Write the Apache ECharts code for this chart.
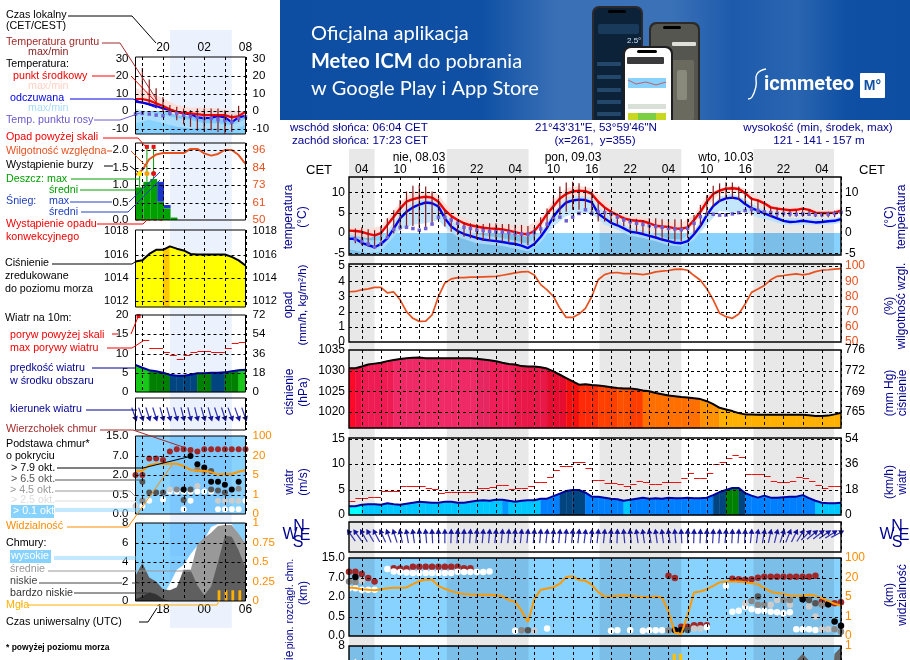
<!DOCTYPE html>
<html><head><meta charset="utf-8">
<style>html,body{margin:0;padding:0;background:#fff}#c{width:910px;height:660px}</style>
<script src="https://cdn.jsdelivr.net/npm/echarts@6/dist/echarts.min.js"></script>
</head><body><div id="c"></div>
<script>
// ---------- main panel data (hourly, i=0 is 02:00 on 08.03) ----------
const mainHourTicks=[2,8,14,20,26,32,38,44,50,56,62,68,74];
const mainHourLabels=['04','10','16','22','04','10','16','22','04','10','16','22','04'];
const mainGridX=[2,5,8,11,14,17,20,23,26,29,32,35,38,41,44,47,50,53,56,59,62,65,68,71,74,77];
const mainNight=[[0,4],[15.3,28.1],[39.2,52],[63.3,75.9]];
const tempMain=[.6,.5,.3,-.2,-.6,0,2,4,6,7.7,8.3,8.7,8.9,8.7,7.7,5.6,4.2,3.2,2.4,1.9,1.6,1.3,1.15,1.05,.9,.6,.2,-.15,-.3,.5,2.4,4.7,6.6,8.5,9.6,10.2,10.4,10.3,9.6,7.7,6.3,5.2,4.4,3.6,3.2,3,2.9,2.4,1.8,1.6,1.5,1.15,1.05,1.4,3.2,5.2,7.7,9.6,10.4,10.9,11,10.8,9.8,8.4,8,7.3,6.3,6,5.8,5.6,5.7,6,5.7,5,4.9,4.9,5,5.5];
const feelMain=[-1.4,-1.4,-2.4,-3,-3.5,-2.7,-1.3,1.1,3.6,5.2,6.3,7,7.5,7.3,6.5,3.6,1.6,.5,-.25,-.7,-1.2,-1.6,-1.8,-2,-2.2,-2.5,-2.7,-3.1,-3.7,-2.7,-.9,1.3,4,6,7.5,8,8.2,8.1,7.5,4.8,3.6,2.5,1.9,1.15,.3,.1,-.25,-.7,-1.1,-1.6,-2,-2.4,-2.5,-2,-.3,1.7,4.4,6.6,7.9,8.5,8.7,8.4,7.1,6.1,5.5,4.8,4.2,3.6,3,2.7,2.8,3,2.8,2.6,2.7,2.9,3,3.4];
const dewMain=[null,-1.6,-2,-2.7,-3.4,-2.7,-1.1,.9,1.4,1.4,1.1,.7,1.1,2.2,3.9,3.8,3.2,2.4,1.4,1.1,.7,.6,.4,.3,.2,.1,-.1,-.25,-.3,.1,1,2.2,3.4,3.9,3,3.9,4.8,5.7,4.8,5.2,5,4.7,3.9,3.2,2.8,2.4,2.1,1.8,1.6,1.4,1.15,1,.8,1.15,2.4,4,4.6,4.6,4.4,4.4,4.7,5,5.5,5.8,5.5,5.2,5,4.8,4.8,4.7,4.6,4.7,4.6,4.5,4.5,4.6,4.8,5.1];
const groundHiMain=[null,1.1,1.4,.9,.7,1.7,3.6,5.6,8.1,10.2,11.6,11.8,11.4,10.2,8.5,5.6,4,3.2,2.5,2.4,2.2,2.2,2.4,2.4,2.2,2.2,2,2,1.7,1.4,3.9,6,8.9,11.4,12.4,12.6,12.2,11.4,10.2,7.7,6.3,5.7,4.8,4,3.5,3.5,3.2,3.6,3.6,3.4,3.4,3.4,3.4,3.5,4.4,6.9,9.3,11.6,12.2,12.5,12.4,11.4,10.2,8.8,8.1,7.3,6.3,6.3,6,5.8,5.8,6,5.8,5.2,5,5.2,5.5,null];
const groundLoMain=[null,-2.5,-3,-3.4,-3.8,-2.1,-1.3,-.1,.7,1.6,1.7,1.4,1.1,2.2,3.2,1.6,.3,-.5,-.9,-1.3,-1.6,-1.9,-1.9,-1.9,-2.1,-2.4,-2.5,-2.7,-3,-2.1,-.1,1.1,3.2,4.4,5.2,5.7,5.7,5.5,4.8,2.8,2.8,2.4,2,1.6,.6,.1,-.1,-.5,-1,-1.6,-1.9,-2.1,-2.1,-1.3,-.1,1.7,4.4,6.5,7.7,8.4,8.5,8.1,7.3,4.3,4.7,4.4,4,3.9,3.9,4,4,4,4.2,3.9,3.9,3.9,3.9,null];
const bandPtsMain=[0,3,5,8,10,12,14,15,17,20,24,28,30,32,34,36,38,40,42,44,46,48,50,52,54,56,58,60,62,64,66,68,70,72,74,76,77];
const pinkHiMain=[1.4,1.1,1.6,7.5,10.2,10.2,9.6,7.3,4.4,2.4,2,1.7,3.6,8.1,11,11.6,11,8.1,5.2,4,3.9,3.2,2.8,2.4,4.4,9.3,11,11.6,11,9,6.9,6.5,6.3,6,5.5,5.7,6];
const pinkLoMain=[-.5,-1.3,-.5,4.8,7.3,7.3,6.5,4,2.4,.7,.3,-.9,1.1,5.7,8.5,9.3,8.5,5.2,3.6,2.6,2.3,1.5,.9,.6,1.7,6.5,9.6,10,9.5,7.3,5.5,5.2,5,4.8,4.4,4.4,4.8];
const blueHiMain=[-.6,-1.8,-1.8,5,7.5,8.5,7.5,5,1.7,-.3,-1.2,-2.6,.3,5.3,8.8,9.2,8.8,4.8,3,1.3,.7,-.3,-1.4,-1.6,.6,5.5,9,9.7,8.3,6.3,5,3.7,3.6,3.6,3.4,3.7,4.1];
const blueLoMain=[-4,-5,-4.5,.8,2,2.4,3.2,1.4,-1,-2.5,-3.2,-4.5,-2.3,1.6,4.2,5,4.8,2,.8,-.7,-1.2,-2,-3,-3.3,-1.7,2,5.5,5,5.2,3.9,3,2,2.1,2,2,2.2,2.6];
const humidMain=[83.1,83.3,84.4,85,86,86,82.4,83,77.8,70,65.6,63.6,63.8,67.8,80,88.9,91.6,92.4,92.4,92.7,92.7,92.9,93.1,93.3,94,94.7,95.6,96.2,96.4,94.2,87.8,84.4,80,72.2,66.2,66.2,68.4,72.2,80,91,94.4,95.6,95.8,95.1,95.1,94.9,94.4,95.1,96.2,96.7,97.1,97.8,98,97.3,93.8,90.7,85.1,77.8,68.9,66.7,65.6,68.4,75,82.7,84.9,87.3,91,93.3,93.8,94.4,94.9,94.2,94.9,96.4,97.3,97.6,98,98.4];
const pressMain=[1030.6,1030.6,1031,1031.5,1031.7,1031.9,1032.3,1032.6,1032.8,1033,1033.1,1033.2,1033,1033,1033,1033,1033,1033,1033,1033,1032.9,1032.7,1032.5,1032.3,1031.9,1031.6,1031.5,1031.1,1031,1031,1030.8,1030.5,1029.8,1029,1028.2,1027.4,1026.6,1026.7,1026.5,1026.4,1026.2,1026,1025.8,1025.7,1025.7,1025.5,1025.2,1025,1024.6,1024.3,1024,1023.8,1023.6,1023.5,1023.3,1023.1,1022.6,1021.9,1021,1020.6,1020.2,1019.7,1019.4,1019.4,1019.3,1019.3,1019.3,1019.3,1019.3,1019.3,1019.3,1019.3,1019.2,1019,1019,1019.1,1019.4,1019.8];
const pressColorsMain=[[0,'#fc0a28'],[1,'#f01040'],[2,'#ee1c52'],[7,'#ef2a66'],[20,'#e62660'],[22,'#ee1e58'],[26,'#e81848'],[31,'#e60e30'],[34,'#f51010'],[36,'#ff2a08'],[39,'#ff4000'],[42,'#ff5000'],[44,'#ff3c00'],[46,'#ff7000'],[55,'#ff9000'],[58,'#ffb000']];
const windMain=[1.7,1.7,2,2.1,2.1,2,2.3,2.1,2,2.2,2.4,2.6,2.5,2.4,2.4,2.6,2.6,2.4,2.4,2.6,2.8,2.9,2.8,3,3,2.8,2.6,2.8,2.9,2.9,3.2,3.2,3.7,4.2,4.7,4.9,4.9,4.4,3.6,3.6,3.4,3.2,3.1,2.8,3,3.2,3.4,3.2,3.3,3.2,3.4,3.3,3.3,3.4,3.3,3.3,3.4,3.9,4.5,4.9,5.3,5.3,4.3,3.8,3.4,3.8,3.4,3.4,3.5,3.6,3.6,3.9,3.3,2.8,2.4,2.3,2.3,2.4];
const windColorsMain=[[0,'#00ffff'],[2,'#00c8ff'],[24,'#0096ff'],[25,'#00c8ff'],[30,'#0080ff'],[33,'#004480'],[37,'#0080ff'],[43,'#00c8ff'],[44,'#0080ff'],[57,'#004480'],[59,'#008000'],[61,'#004480'],[62,'#0080ff'],[73,'#00c8ff']];
const gustMain=[2.8,3.3,3.3,3.5,3.5,4.7,4.7,4.8,5.6,5.6,5.6,5.6,5.2,5.1,4.3,4.5,4.5,4.5,4.5,4.5,5.2,5.2,5.5,5.8,5.8,5.1,5.3,5.3,5.7,6.4,6.4,7.4,8.8,9.6,9.6,10.4,10.4,9.2,6.8,6.8,6.3,6.3,6,5.7,6,6.7,6.4,6,6,6.5,6.4,6.4,7.2,8.3,7.2,7.2,8.3,10,10.4,11.2,11.8,11.4,8.1,8.1,8.1,7.6,6.7,6.5,6.5,6.7,7.4,7.2,6.6,5.9,5.3,5.6,5.6];
const dirMain=[-35,-35,-30,-30,-28,-25,-20,-18,-12,-10,-8,-6,-5,-3,-2,0,2,3,3,4,5,5,5,6,6,5,5,6,5,5,5,6,7,6,5,5,6,7,7,6,6,5,2,-5,-6,-8,-8,-9,-8,-7,-8,-5,-3,0,2,2,3,3,4,5,3,4,3,6,8,10,12,14,18,22,26,32,45,50,52,55,58,62];
const visMain=[2.49,2.46,2.4,2.37,2.35,2.4,2.45,2.47,2.47,2.49,2.66,2.81,2.9,2.88,2.57,2.42,2.3,2.21,2.16,2.13,2.11,2.11,2.11,2.09,2.04,1.85,1.75,1.3,.72,1.89,2.37,2.44,2.5,2.68,3.02,3.06,2.87,2.83,2.63,2.25,2.04,2.03,2.06,2.09,2.06,2.03,2,2,2.03,1.97,1.25,.17,.1,1.08,2.23,2.28,2.4,2.57,2.75,2.8,2.8,2.8,2.76,2.71,2.66,2.45,2.27,2.2,2.15,2.08,2.06,2.06,2.11,2.06,1.94,1.8,1.65,1.56];
const baseTopMain=[[0,3.3],[1,3.3],[2,3.18],[3,2.97],[4,2.8],[7,3.48],[8,3.46],[9,3.46],[10,3.55],[11,3.55],[12,3.55],[13,3.55],[14,3.55],[15,3.55],[16,3.55],[17,3.55],[18,3.48],[19,3.48],[50,3.09],[51,2.97],[52,.48],[53,.48],[54,.55],[55,.57],[56,.55],[60,2.93],[61,2.91],[62,2.88],[63,2.91],[64,2.99],[65,3.04],[66,3.04],[67,3.04],[68,3.04],[69,3.04],[70,3.04],[71,3.04],[72,3.04],[73,3.09],[74,1.77],[75,1.63],[76,1.68],[77,1.73]];
const baseWhiteMain=[[0,2.45],[1,2.45],[2,2.37],[3,2.37],[4,2.37],[6,3.43],[7,3.31],[8,3.28],[9,3.26],[10,3.23],[11,3.23],[12,3.23],[13,3.23],[14,3.23],[15,3.23],[16,3.23],[17,3.3],[18,3.28],[19,3.28],[20,3.28],[21,3.28],[22,3.31],[26,.27],[31,.39],[41,.27],[42,.29],[44,.29],[46,.27],[47,.29],[48,.29],[49,.29],[56,.45],[59,2.56],[60,1.25],[61,1.3],[62,1.5],[63,1.37],[64,1.3],[65,1.3],[66,1.25],[67,1.22],[68,1.17],[69,1.22],[70,.34],[71,.34],[72,.34],[73,.31]];
const baseLightMain=[[2,2.83],[29,.27],[54,.39],[55,.39],[62,1.68],[66,1.6],[67,1.85],[69,1.6],[72,1.51],[73,1],[74,.34],[75,.34]];
const baseMidMain=[[0,2.8],[1,2.77],[27,.29],[50,.29],[63,1.8],[64,1.6],[65,1.6],[68,1.85],[69,1.85],[74,1.6],[76,.34],[77,.22]];
const baseDarkMain=[[28,.29],[53,.31],[64,2.03],[72,1.85],[73,1.68]];
const baseBlackMain=[[1,3.02],[51,.31],[52,.31],[71,1.89],[75,1.63],[76,.74],[77,.52]];
const cloudHighMain=[[0,6],[1,6.7],[2,6],[3,0]];
const cloudLowMain=[[69,0],[70,6.5],[71,7.2],[72,6.5],[73,0],[75,0],[76,7.2],[77,7.9]];
const fogMain=[[50.9,7.2],[51.9,7.2]];

// ---------- left panel data (hourly, i=0 is 16:00 local) ----------
const leftGridX=[1,4,7,10,13,16];
const leftNight=[[5,14]];
const tempLeft=[6.9,6.9,6,4.4,2.9,1,-.4,-1,-1.3,-1.7,-2.3,-2.3,-2.3,-2.3,-3.6,-2.9,-.4];
const feelLeft=[5.4,4.8,4,2.9,1.5,.6,-.4,-1.3,-1.7,-3.6,-4,-3.8,-2.9,-3.6,-6.3,-3.6,-2.7];
const dewLeft=[-1.7,-1.3,-1.7,-2.3,-2.7,-1.3,-1.3,-2.3,-2.9,-3.6,-4.2,-4.2,-4.8,-5.2,-6.2,-4.2,-3.3];
const groundHiLeft=[null,24.6,18,13,8,3.5,2.5,1.5,.5,1.5,1.5,1.5,1.5,.5,-2,3,null];
const groundLoLeft=[null,4,4,2.5,-.4,-2.5,-5.2,-7.5,-9,-11.3,-12,-11,-12,-13,-12,-6.3,null];
const bandPtsLeft=[0,2,4,6,8,10,12,14,16];
const pinkHiLeft=[13,11,7.3,3.5,2,2,1.5,.6,-.4];
const pinkLoLeft=[5,4,.5,-2.5,-3,-4,-4,-6,-3];
const blueHiLeft=[1.3,-.5,-2,-4,-5,-7,-7,-8,-5];
const blueLoLeft=[-7,-5,-7,-9,-10,-10,-10,-11,-8];
const rainStepsLeft=[[0,1.15,.93],[1.15,2.15,1.09],[2.15,3.15,1.17],[3.15,4.15,.52],[4.15,5.1,.33],[5.1,6.1,.07]];
const snowStepsLeft=[[3.15,4.15,.52,1.09],[4.15,5.1,.33,.43]];
const rainStemsLeft=[[.6,1.33,.93],[1.66,2.09,1.09],[2.63,2.09,1.17]];
const stormDotsLeft=[[.6,1.33,'#ffe800'],[1.66,1.33,'#ffa000'],[2.63,1.33,'#e01010']];
const overScaleLeft=[[1.66,2.09],[2.63,2.09]];
const convectiveLeft=[[0,0],[4,0]];
const humidLeft=[79.6,82.9,89.9,93,94,94,94,94,96.7,96.7,93.8,92.3,93.4,96,96,92.7,86.8];
const pressLeft=[1015.4,1015.5,1016.05,1016.4,1016.4,1016.7,1016.5,1016.35,1016.05,1016,1016,1016,1016,1016,1015.8,1015.5,1015.06];
const pressColorsLeft=[[0,'#ffff00'],[4,'#ffc800'],[5,'#ffff00']];
const windLeft=[7,6.3,5.65,5.4,5,4.5,4.2,4.2,4.5,4.9,4.9,5,5,5.1,5.4,5.65,5.8];
const windColorsLeft=[[0,'#18c818'],[2,'#008000'],[5,'#004480'],[9,'#008000'],[11,'#004480'],[13,'#008000'],[15,'#18c818']];
const gustLeft=[null,13.5,11.5,11.5,10.5,9.6,8.7,9.7,10.4,10.7,10.7,10.4,10.4,11.5,12.6,12.9];
const gustOverLeft=[[.45,19.7]];
const dirLeft=[160,160,162,162,164,164,164,166,166,166,164,164,162,162,160,160,160];
const visLeft=[2.22,2.22,2.5,2.58,2.58,2.58,2.58,2.46,2.26,2.22,2.22,2.15,2.03,2.05,2.05,2.17,2.26];
const baseTopLeft=[[0,2],[1,2],[2,2.84],[3,2.84],[4,2.77],[5,3.2],[6,3.32],[7,3.32],[8,3.28],[9,3.2],[10,3.32],[11,3.32],[12,3.32],[13,3.32],[14,3.32],[15,3.32],[16,3.32]];
const baseWhiteLeft=[[1,.41],[2,.68],[4,.75],[5,1.15],[6,1.15],[7,1.15],[7,.24],[8,1.15],[9,1.15],[10,1.15],[11,1.15],[8,.68],[12,.24],[13,.24],[14,.24],[15,.24],[16,.68]];
const baseLightLeft=[[0,.41],[5,1.26],[9,1.44],[12,.68],[13,.68],[14,.68],[15,.68]];
const baseMidLeft=[[1,.68],[6,1.26],[9,2.3],[10,2.2],[15,1.3]];
const baseDarkLeft=[[1,1.66],[2,1.1],[3,1.1],[4,1.1],[7,.72],[8,1.26],[11,2.2],[11,1.26],[12,1.2],[13,1.1]];
const baseBlackLeft=[[7,1.26],[8,2.97],[9,2.55],[10,2.39],[11,1.66],[12,1.66],[13,1.5],[14,1.26],[15,1.66]];
const cloudHighLeft=[0,0,0,0,.5,1.8,3.2,3.7,4.8,5.7,6.3,7.6,7.9,7.9,7.9,6.8,5.9];
const cloudMidLeft=[0,0,0,0,0,0,1,3.2,3.1,5.8,6.5,7,7.7,7.8,7.8,6.9,5.9];
const cloudLowLeft=[2.6,3.9,2.4,2,1.2,1.1,1.4,3.2,3.2,1.6,.6,1.5,4,6.7,6.6,5.2,3.4];
const cloudVLowLeft=[.2,.5,.9,.7,.2,0,0,0,0,0,0,0,0,0,0,0,0];
const fogLeft=[[12.15,1.1],[13.17,1.1],[14.15,1.1],[15.17,1.1]];

const baseTicks=[0,1,2,3,4];
const baseLabels=['0.0','0.5','2.0','7.0','15.0'];
const visLabels=['0','1','5','20','100'];

// ---------- helpers ----------
const FONT='"Liberation Sans",Arial,sans-serif';
const grids=[],xAxes=[],yAxes=[],series=[];
const pick=(ticks,labels)=>v=>{const k=ticks.findIndex(t=>Math.abs(t-v)<1e-6);return k<0?'':String(labels[k]);};
function panel(o){
  const g=grids.length;
  grids.push({left:o.left,top:o.top,width:o.width,height:o.height,show:false,containLabel:false,outerBoundsMode:'none'});
  const labs=o.xTicks||[];
  xAxes.push({gridIndex:g,type:'value',min:o.xmin,max:o.xmax,position:o.xPos||'bottom',z:3,show:!!o.xTicks,
    axisLine:{show:false},axisTick:{show:false},splitLine:{show:false},
    axisLabel:{show:!!o.xTicks,customValues:labs,formatter:pick(labs,o.xLabels||[]),margin:o.xMargin==null?3:o.xMargin,color:'#000',fontFamily:FONT,fontSize:12,showMinLabel:true,showMaxLabel:true,hideOverlap:false}});
  const x=xAxes.length-1;
  const ticks=o.ticks||[];
  const yl=yAxes.length;
  const fs=o.font||12;
  yAxes.push({gridIndex:g,type:'value',min:o.ymin,max:o.ymax,position:'left',z:3,show:!!o.ticks,
    axisLine:{show:false},axisTick:{show:false},splitLine:{show:false},
    axisLabel:{show:!!o.ticks,customValues:ticks,formatter:pick(ticks,o.labels||ticks),margin:o.margin,color:'#000',fontFamily:FONT,fontSize:fs,showMinLabel:true,showMaxLabel:true,hideOverlap:false}});
  const rt=o.rTicks||ticks;
  yAxes.push({gridIndex:g,type:'value',min:o.rmin==null?o.ymin:o.rmin,max:o.rmax==null?o.ymax:o.rmax,position:'right',z:3,show:!!o.ticks,
    axisLine:{show:false},axisTick:{show:false},splitLine:{show:false},
    axisLabel:{show:!!o.ticks,customValues:rt,formatter:pick(rt,o.rLabels||o.labels||ticks),margin:o.margin,color:o.rColor||'#000',fontFamily:FONT,fontSize:fs,showMinLabel:true,showMaxLabel:true,hideOverlap:false}});
  return Object.assign({},o,{x,y:yl,yr:yl+1});
}
function once(p,z,draw,extra){
  series.push(Object.assign({type:'custom',xAxisIndex:p.x,yAxisIndex:p.y,z,silent:true,data:[[p.xmin,p.ymin]],encode:{x:0,y:1},
    renderItem:(params,api)=>({type:'group',children:draw(api)})},extra||{}));
}
function nightBands(p,bands,color){
  once(p,0,api=>bands.map(b=>{const a=api.coord([b[0],p.ymax]),c=api.coord([b[1],p.ymin]);
    return {type:'rect',shape:{x:a[0],y:a[1],width:c[0]-a[0],height:c[1]-a[1]},style:{fill:color}};}));
}
function skyRect(p,top,color){
  once(p,1,api=>{const a=api.coord([p.xmin,top]),c=api.coord([p.xmax,p.ymin]);
    return [{type:'rect',shape:{x:a[0],y:a[1],width:c[0]-a[0],height:c[1]-a[1]},style:{fill:color}}];},{blendMode:'multiply'});
}
function bandPoly(p,xs,hi,lo,color,op,z){
  once(p,z,api=>{const pts=[];xs.forEach((x,k)=>pts.push(api.coord([x,hi[k]])));
    for(let k=xs.length-1;k>=0;k--)pts.push(api.coord([xs[k],lo[k]]));
    return [{type:'polygon',shape:{points:pts},style:{fill:color,opacity:op}}];});
}
function line(p,arr,color,w,z,axis){
  series.push({type:'line',xAxisIndex:p.x,yAxisIndex:axis==='r'?p.yr:p.y,z:z||4,silent:true,symbol:'none',
    data:arr.map((v,i)=>[i,v]),lineStyle:{color,width:w},itemStyle:{color},connectNulls:false});
}
function area(p,pairs,color,z){
  series.push({type:'line',xAxisIndex:p.x,yAxisIndex:p.y,z,silent:true,symbol:'none',data:pairs,
    lineStyle:{width:0,color},itemStyle:{color},areaStyle:{color,opacity:1,origin:'start'}});
}
function dots(p,pts,color,size,z,sym){
  series.push({type:'scatter',xAxisIndex:p.x,yAxisIndex:p.y,z:z||4,silent:true,symbol:sym||'circle',symbolSize:size,data:pts,itemStyle:{color,opacity:1}});
}
function stems(p,hi,lo,color,w,z){
  once(p,z,api=>{const out=[];hi.forEach((h,i)=>{if(h==null)return;const a=api.coord([i,h]),b=api.coord([i,lo[i]]);
    out.push({type:'line',shape:{x1:a[0],y1:a[1],x2:b[0],y2:b[1]},style:{stroke:color,lineWidth:w}});});return out;});
}
function segFill(p,vals,colors,z){
  const colorOf=i=>{let c=colors[0][1];colors.forEach(s=>{if(i>=s[0])c=s[1];});return c;};
  once(p,z,api=>{const out=[];for(let i=0;i<vals.length-1;i++){const c=colorOf(i);
    out.push({type:'polygon',shape:{points:[api.coord([i,vals[i]]),api.coord([i+1,vals[i+1]]),api.coord([i+1,p.ymin]),api.coord([i,p.ymin])]},style:{fill:c,stroke:c,lineWidth:.4}});}return out;});
}
function gustSegs(p,vals,z){
  once(p,z,api=>{const out=[];vals.forEach((v,i)=>{if(v==null)return;const a=api.coord([i,v]),b=api.coord([i+1,v]);
    const y=Math.round(a[1])+.5;out.push({type:'line',shape:{x1:a[0],y1:y,x2:b[0],y2:y},style:{stroke:'#f01010',lineWidth:1}});});return out;});
}
function arrows(p,angles,headV,len,z){
  once(p,z,api=>{const out=[];angles.forEach((deg,i)=>{const h=api.coord([i,headV]),t=deg*Math.PI/180,dx=Math.sin(t),dy=-Math.cos(t);
    const tx=h[0]-len*dx,ty=h[1]-len*dy;
    out.push({type:'line',shape:{x1:tx,y1:ty,x2:h[0],y2:h[1]},style:{stroke:'#3434b0',lineWidth:1.2}});
    out.push({type:'polygon',shape:{points:[[h[0]+3.6*dx,h[1]+3.6*dy],[h[0]-3*dy-1.6*dx,h[1]+3*dx-1.6*dy],[h[0]+3*dy-1.6*dx,h[1]-3*dx-1.6*dy]]},style:{fill:'#14149c'}});
  });return out;});
}
function overlay(p,gx,gy,bw,dash){
  once(p,10,api=>{const out=[];
    const s={stroke:'#000',lineWidth:1,lineDash:dash};
    const tl=api.coord([p.xmin,p.ymax]),br=api.coord([p.xmax,p.ymin]);
    gx.forEach(x=>{const X=Math.round(api.coord([x,p.ymin])[0])+.5;out.push({type:'line',shape:{x1:X,y1:tl[1],x2:X,y2:br[1]},style:s});});
    (gy||[]).forEach(v=>{const Y=Math.round(api.coord([p.xmin,v])[1])+.5;out.push({type:'line',shape:{x1:tl[0],y1:Y,x2:br[0],y2:Y},style:s});});
    out.push({type:'rect',shape:{x:tl[0],y:tl[1],width:br[0]-tl[0],height:br[1]-tl[1]},style:{fill:'none',stroke:p.frame||'#000',lineWidth:bw}});
    return out;});
}

// ---------- background bands ----------
const bgMain=panel({left:349,top:149,width:492,height:511,xmin:0,xmax:77,ymin:0,ymax:1});
nightBands(bgMain,mainNight,'#e8e8e8');
const bgLeft=panel({left:135.5,top:30,width:110,height:598,xmin:0,xmax:16,ymin:0,ymax:1});
nightBands(bgLeft,leftNight,'#ebf2fd');

// ---------- main panels ----------
const M={left:349,width:492,xmin:0,xmax:77,margin:4};
const p1=panel(Object.assign({},M,{top:177,height:78,ymin:-5.4,ymax:13.76,ticks:[-5,0,5,10],xTicks:mainHourTicks,xLabels:mainHourLabels,xPos:'top',xMargin:1}));
skyRect(p1,0,'#87d2ff');
bandPoly(p1,bandPtsMain,pinkHiMain,pinkLoMain,'#ffd9d2',.8,2);
bandPoly(p1,bandPtsMain,blueHiMain,blueLoMain,'#b4e0fb',.8,3);
dots(p1,dewMain.map((v,i)=>[i,v]).filter(d=>d[1]!=null),'#7060d8',3.5,8,'rect');
line(p1,feelMain,'#0000f0',2.4,6);
line(p1,tempMain,'#f00000',2.4,7);
stems(p1,groundHiMain,groundLoMain,'#8b1a1a',1.2,8);
overlay(p1,mainGridX,[10,5,-5],1.4,[3,3]);

const p2=panel(Object.assign({},M,{top:264,height:78,ymin:0,ymax:5.14,ticks:[0,1,2,3,4,5],rmin:50,rmax:101.4,rTicks:[50,60,70,80,90,100],rLabels:[50,60,70,80,90,100],rColor:'#e8501e'}));
line(p2,humidMain,'#e8501e',1.7,5,'r');
overlay(p2,mainGridX,[1,2,3,4,5],1.4,[3,3]);

const p3=panel(Object.assign({},M,{top:350,height:78,ymin:1016.1,ymax:1035,ticks:[1020,1025,1030,1035],rLabels:[765,769,772,776]}));
segFill(p3,pressMain,pressColorsMain,2);
line(p3,pressMain,'#000',2,5);
overlay(p3,mainGridX,[1020,1025,1030],1.4,[3,3]);

const p4=panel(Object.assign({},M,{top:438,height:77,ymin:0,ymax:15.1,ticks:[0,5,10,15],rLabels:[0,18,36,54]}));
segFill(p4,windMain,windColorsMain,2);
gustSegs(p4,gustMain,5);
line(p4,windMain,'#0000a0',2,6);
overlay(p4,mainGridX,[5,10,15],1.4,[3,3]);

const p5=panel(Object.assign({},M,{top:522,height:30,ymin:0,ymax:1,margin:0}));
arrows(p5,dirMain,.66,11,4);
overlay(p5,mainGridX,[],1.4,[3,3]);

const p6=panel(Object.assign({},M,{top:558,height:78,ymin:0,ymax:4,ticks:baseTicks,labels:baseLabels,rLabels:visLabels,rColor:'#ff8c00'}));
skyRect(p6,4,'#87d2ff');
dots(p6,baseTopMain,'#a02828',6.5,3);
dots(p6,baseWhiteMain,'#ffffff',6.5,3);
dots(p6,baseLightMain,'#cccccc',6.5,4);
dots(p6,baseMidMain,'#888888',6.5,4);
dots(p6,baseDarkMain,'#555555',6.5,4);
dots(p6,baseBlackMain,'#000000',6.5,5);
line(p6,visMain,'#ff9900',2,6);
overlay(p6,mainGridX,[1,2,3],1.4,[3,3]);

const p7=panel(Object.assign({},M,{top:646,height:78,ymin:0,ymax:8,ticks:[8],labels:[8],rLabels:[1],rColor:'#ff8c00'}));
skyRect(p7,8,'#87d2ff');
area(p7,cloudHighMain,'#ffffff',2);
area(p7,cloudLowMain,'#666666',3);
once(p7,4,api=>fogMain.map(f=>{const a=api.coord([f[0],f[1]]),b=api.coord([f[0],0]);return {type:'rect',shape:{x:a[0]-1.6,y:a[1],width:3.2,height:b[1]-a[1]},style:{fill:'#ffc000'}};}));
overlay(p7,mainGridX,[6,4,2],1.4,[3,3]);

// ---------- left panels ----------
const L={left:135.5,width:110,xmin:0,xmax:16,margin:7,font:11.5};
const l1=panel(Object.assign({},L,{top:57,height:77,ymin:-13.1,ymax:30.9,ticks:[-10,0,10,20,30],xTicks:[4,10,16],xLabels:['20','02','08'],xPos:'top',xMargin:3}));
skyRect(l1,0,'#87d2ff');
bandPoly(l1,bandPtsLeft,pinkHiLeft,pinkLoLeft,'#ffd9d2',.8,2);
bandPoly(l1,bandPtsLeft,blueHiLeft,blueLoLeft,'#b4e0fb',.8,3);
dots(l1,dewLeft.map((v,i)=>[i,v]),'#7060d8',3.5,8,'rect');
line(l1,feelLeft,'#0000f0',2.2,6);
line(l1,tempLeft,'#f00000',2.2,7);
stems(l1,groundHiLeft,groundLoLeft,'#8b1a1a',1.2,8);
overlay(l1,leftGridX,[-10,0,10,20],1,[3,3]);

const l2=panel(Object.assign({},L,{top:143,height:77,ymin:0,ymax:2.2,ticks:[0,.5,1,1.5,2],labels:['0.0','0.5','1.0','1.5','2.0'],rmin:50,rmax:100.6,rTicks:[50,61,73,84,96],rLabels:[50,61,73,84,96],rColor:'#e8501e'}));
once(l2,2,api=>{const out=[];
  snowStepsLeft.forEach(s=>{const a=api.coord([s[0],s[3]]),b=api.coord([s[1],s[2]]);out.push({type:'rect',shape:{x:a[0],y:a[1],width:b[0]-a[0],height:b[1]-a[1]},style:{fill:'#1c34c8'}});});
  rainStepsLeft.forEach(s=>{const a=api.coord([s[0],s[2]]),b=api.coord([s[1],0]);out.push({type:'rect',shape:{x:a[0],y:a[1],width:b[0]-a[0],height:b[1]-a[1]},style:{fill:'#00a000'}});});
  rainStemsLeft.forEach(s=>{const a=api.coord([s[0],s[1]]),b=api.coord([s[0],s[2]]);out.push({type:'line',shape:{x1:a[0],y1:a[1],x2:b[0],y2:b[1]},style:{stroke:'#00a000',lineWidth:1}});});
  return out;});
series.push({type:'line',xAxisIndex:l2.x,yAxisIndex:l2.y,z:5,silent:true,symbol:'none',data:convectiveLeft,lineStyle:{color:'#f01010',width:1.5,type:[3,3]}});
dots(l2,overScaleLeft,'#f01010',4,6,'rect');
stormDotsLeft.forEach(d=>dots(l2,[[d[0],d[1]]],d[2],5,6));
line(l2,humidLeft,'#e8501e',2,5,'r');
overlay(l2,leftGridX,[.5,1,1.5,2],1,[3,3]);

const l3=panel(Object.assign({},L,{top:230,height:77,ymin:1011.5,ymax:1018.1,ticks:[1012,1014,1016,1018],font:11}));
segFill(l3,pressLeft,pressColorsLeft,2);
line(l3,pressLeft,'#000',2,5);
overlay(l3,leftGridX,[1012,1014,1016],1,[3,3]);

const l4=panel(Object.assign({},L,{top:315,height:77,ymin:0,ymax:20,ticks:[0,5,10,15,20],rLabels:[0,18,36,54,72]}));
segFill(l4,windLeft,windColorsLeft,2);
gustSegs(l4,gustLeft,5);
dots(l4,gustOverLeft,'#f01010',4,6,'rect');
line(l4,windLeft,'#0000a0',2,6);
overlay(l4,leftGridX,[5,10,15],1,[3,3]);

const l5=panel(Object.assign({},L,{top:398,height:32,ymin:0,ymax:1,margin:0}));
arrows(l5,dirLeft,.375,11,4);
overlay(l5,leftGridX,[],1,[3,3]);

const l6=panel(Object.assign({},L,{top:436,height:78,ymin:0,ymax:4,ticks:baseTicks,labels:baseLabels,rLabels:visLabels,rColor:'#ff8c00'}));
skyRect(l6,4,'#87d2ff');
dots(l6,baseTopLeft,'#a02828',6,3);
dots(l6,baseWhiteLeft,'#ffffff',6,3);
dots(l6,baseLightLeft,'#cccccc',6,4);
dots(l6,baseMidLeft,'#888888',6,4);
dots(l6,baseDarkLeft,'#555555',6,4);
dots(l6,baseBlackLeft,'#000000',6,5);
line(l6,visLeft,'#ff9900',2,6);
overlay(l6,leftGridX,[1,2,3],1,[3,3]);

const l7=panel(Object.assign({},L,{top:523,height:78,ymin:0,ymax:8,ticks:[0,2,4,6,8],rLabels:['0','0.25','0.5','0.75','1'],rColor:'#ff8c00',xTicks:[4,10,16],xLabels:['18','00','06'],xMargin:3}));
skyRect(l7,8,'#87d2ff');
const toPairs=a=>a.map((v,i)=>[i,v]);
area(l7,toPairs(cloudHighLeft),'#ffffff',2);
area(l7,toPairs(cloudMidLeft),'#999999',3);
area(l7,toPairs(cloudLowLeft),'#5f5f5f',4);
area(l7,toPairs(cloudVLowLeft),'#333333',5);
once(l7,6,api=>fogLeft.map(f=>{const a=api.coord([f[0],f[1]]),b=api.coord([f[0],0]);return {type:'rect',shape:{x:a[0]-1.4,y:a[1],width:2.8,height:b[1]-a[1]},style:{fill:'#ffb000'}};}));
overlay(l7,leftGridX,[2,4,6],1,[3,3]);

// ---------- text, leader lines, banner ----------
const NAVY='#000090';
const leftTexts=[
['Czas lokalny',6,15,'#000'],['(CET/CEST)',6,26,'#000'],
['Temperatura gruntu',6,42,'#a52a2a'],['max/min',28,52,'#8b2323'],
['Temperatura:',6,64,'#000'],['punkt środkowy',13,76,'#f00000'],['max/min',28,86,'#ffd2c4'],
['odczuwana',10,98,'#0000e0'],['max/min',28,108,'#a8dcff'],['Temp. punktu rosy',6,120,'#6a5acd'],
['Opad powyżej skali',6,137,'#f00000'],['Wilgotność względna',6,151,'#e8501e'],['Wystąpienie burzy',6,165,'#000'],
['Deszcz: max',6,179,'#00a000'],['średni',49,190,'#00a000'],['Śnieg:',6,201,'#2040c0'],['max',49,201,'#2040c0'],['średni',49,212,'#2040c0'],
['Wystąpienie opadu',6,224,'#f00000'],['konwekcyjnego',6,237,'#f00000'],
['Ciśnienie',5,263,'#000'],['zredukowane',5,276,'#000'],['do poziomu morza',5,289,'#000'],
['Wiatr na 10m:',5,318,'#000'],['poryw powyżej skali',10,335,'#f00000'],['max porywy wiatru',10,348,'#f00000'],
['prędkość wiatru',10,368,NAVY],['w środku obszaru',10,381,NAVY],['kierunek wiatru',10,409,NAVY],
['Wierzchołek chmur',6,429,'#a52a2a'],['Podstawa chmur*',6,444,'#000'],['o pokryciu',6,456,'#000'],
['> 7.9 okt.',11,468,'#000'],['> 6.5 okt.',11,479,'#555'],['> 4.5 okt.',10,490,'#999'],['> 2.5 okt.',11,500,'#ddd'],['> 0.1 okt.',13,511,'#fff'],
['Widzialność',6,526,'#ff8c00'],['Chmury:',6,543,'#000'],['wysokie',11,556,'#fff'],['średnie',10,569,'#999'],['niskie',10,581,'#444'],['bardzo niskie',10,593,'#333'],
['Mgła',6,605,'#ffb000'],['Czas uniwersalny (UTC)',6,622,'#000']
];
const leaderLines=[
[[[68,16],[132,16],[156,43]],'#000'],[[[102,43],[120,43],[157,100]],'#a52a2a'],
[[[92,76],[115,76]],'#f00'],[[[131,76],[157,103]],'#f00'],[[[70,99],[133,99],[157,108]],'#0000e0'],
[[[94,120],[120,120],[140,113]],'#6a5acd'],[[[103,138],[138,138],[146,147]],'#f00'],
[[[107,151],[112,151]],'#e8501e'],[[[131,151],[147,167]],'#e8501e'],
[[[104,166],[113,166]],'#000'],[[[130,166],[138,172]],'#000'],[[[71,179],[139,179]],'#00a000'],[[[80,190],[143,190]],'#00a000'],
[[[70,202],[112,202]],'#2040c0'],[[[129,202],[160,172]],'#2040c0'],[[[81,212],[128,212],[160,180]],'#2040c0'],
[[[97,224],[143,224],[147,220]],'#f00'],[[[52,264],[132,264],[135,262]],'#000'],
[[[112,334],[118,334]],'#f00'],[[[131,334],[138,317]],'#f00'],[[[107,348],[132,348],[143,341]],'#f00'],
[[[92,368],[135,368]],NAVY],[[[86,410],[137,410]],NAVY],[[[100,430],[133,430],[183,447]],'#a52a2a'],
[[[57,468],[143,468],[192,456]],'#000'],[[[55,480],[140,480]],'#555'],[[[55,491],[130,491],[137,498]],'#999'],[[[55,501],[135,501],[138,505]],'#ddd'],
[[[55,509],[138,509]],'#87d2ff'],[[[55,511],[138,511]],'#87d2ff'],[[[67,527],[128,527],[172,465]],'#ff8c00'],
[[[54,557],[187,557]],'#87d2ff'],[[[54,559],[187,559]],'#87d2ff'],[[[48,571],[193,571]],'#999'],
[[[39,583],[122,583]],'#444'],[[[132,583],[140,583]],'#444'],[[[74,593],[147,593]],'#333'],[[[28,605],[217,605],[219,601]],'#ffb000'],[[[139,622],[148,622],[157,608]],'#000']
];
const headerTexts=[
['wschód słońca: 06:04 CET',290,128,'left'],['zachód słońca: 17:23 CET',292,141,'left'],
['21°43\'31"E, 53°59\'46"N',596,128,'center'],['(x=261,  y=355)',595,141,'center'],
['wysokość (min, środek, max)',818,128,'center'],['121 - 141 - 157 m',819,141,'center']
];
const dayLabels=[['nie, 08.03',419],['pon, 09.03',573],['wto, 10.03',726]];
const rotatedTexts=[
['temperatura',289,217,12],['(°C)',303,217,12],['opad',289,305,12],['(mm/h, kg/m²/h)',303,305,11.5],['ciśnienie',290,392,12],['(hPa)',304,392,12],
['wiatr',290,482,12],['(m/s)',304,482,12],['pion. rozciągł. chm.',290,604,10.5],['(km)',304,593,12],['zachmurzenie',290,688,12],
['temperatura',902,217,12],['(°C)',890,217,12],['wilgotność wzgl.',902,306,12],['(%)',890,306,12],['ciśnienie',903,393,12],['(mm Hg)',890,393,12],
['wiatr',903,482,12],['(km/h)',890,482,12],['widzialność',903,595,12],['(km)',890,595,12]
];
const compass=[['W',290,535],['N',299,527],['S',298,543],['E',305,536],['W',887,535],['N',897,527],['S',897,543],['E',904,536]];

const gfx=[];
const txt=(t,x,y,fill,font,align,extra)=>gfx.push(Object.assign({type:'text',x,y,z:30,silent:true,style:{text:t,fill,font,textAlign:align||'left',textVerticalAlign:'middle'}},extra||{}));
const F12='12px '+FONT, F11='10.7px '+FONT, FH='11.6px '+FONT;
// banner
gfx.push({type:'rect',z:1,silent:true,shape:{x:280,y:0,width:630,height:120},style:{fill:new echarts.graphic.LinearGradient(0,0,1,0,[
 {offset:0,color:'#0d4ea3'},{offset:.32,color:'#0f50a4'},{offset:.44,color:'#3a70b6'},{offset:.62,color:'#3b72b7'},{offset:.72,color:'#1c5aac'},{offset:.82,color:'#2a65b0'},{offset:.9,color:'#0f50a4'},{offset:1,color:'#0d4ea3'}])}});
const LATO='"Lato","Open Sans",sans-serif';
txt('Oficjalna aplikacja',311,34,'#fff','20px '+LATO);
gfx.push({type:'text',z:30,silent:true,x:311,y:62,style:{text:'{b|Meteo ICM} do pobrania',fill:'#fff',font:'20px '+LATO,textVerticalAlign:'middle',rich:{b:{fontFamily:'Lato',fontWeight:'bold',fontSize:20,fill:'#fff'}}}});
txt('w Google Play i App Store',311,89,'#fff','20px '+LATO);
const box=(x,y,w,h,fill,r,z)=>gfx.push({type:'rect',z:z||2,silent:true,shape:{x,y,width:w,height:h,r:r||0},style:{fill}});
box(592,6,51,114,'#2a2a2e',[7,7,0,0],2); box(594,8,47,112,'#0c2238',[6,6,0,0],2); box(608,10,18,3,'#000',1.5,3); box(598,24,41,10,'#1a3a5c',2,3);
txt('2.5°',627,41,'#cfe0f0','8px '+FONT,'left');
[62,75,88,100,112].forEach(y=>box(597,y,24,4,'#24486c',1,3));
box(649,22,51,98,'#2c2a28',[7,7,0,0],2); box(651,24,47,96,'#55564f',[6,6,0,0],2); box(663,26,18,3,'#000',1.5,3); box(672,42,24,4,'#dfe0da',1,3);
box(668,60,26,60,'#6b6a5f',2,3); box(677,70,10,30,'#8a8a7c',2,3);
box(623,46,50,74,'#1f1f22',[7,7,0,0],4); box(625,48,46,72,'#ffffff',[6,6,0,0],4); box(637,50,20,3,'#000',1.5,5); box(627,57,37,7,'#3a3a3c',1,5);
box(628,78,38,10,'#87d2ff',0,5); box(628,88,38,16,'#ffffff',0,5); box(628,104,38,5,'#d8e0d8',0,5); box(628,113,38,7,'#c8d820',0,5);box(638,113,18,7,'#7ad040',0,5);
gfx.push({type:'polyline',z:5,silent:true,shape:{points:[[628,80],[636,84],[646,82],[656,85],[666,82]]},style:{stroke:'#d04040',lineWidth:.8,fill:'none'}});
gfx.push({type:'polyline',z:5,silent:true,shape:{smooth:.5,points:[[766,69],[757,74],[756,86],[752,97],[748,99]]},style:{stroke:'#fff',lineWidth:1.4,fill:'none'}});
txt('icmmeteo',764,85,'#fff','bold 20px "Roboto","Open Sans",sans-serif');
box(860,73,25,25,'#fff',1,5);
txt('M°',872.5,86,'#0f50a4','bold 14px '+FONT,'center');

// left column
box(11,505,43,13,'#87d2ff',0,25); box(10,550,41,13,'#87d2ff',0,25);
leaderLines.forEach(l=>gfx.push({type:'polyline',z:20,silent:true,shape:{points:l[0]},style:{stroke:l[1],lineWidth:1,fill:'none'}}));
leftTexts.forEach(t=>txt(t[0],t[1],t[2],t[3],F11));
txt('* powyżej poziomu morza',6,648,'#000','bold 8.5px '+FONT);
// header
headerTexts.forEach(t=>txt(t[0],t[1],t[2],NAVY,FH,t[3]));
dayLabels.forEach(d=>txt(d[0],d[1],158,'#000',F12,'center'));
txt('CET',306,170,'#000','13px '+FONT); txt('CET',859,170,'#000','13px '+FONT);
rotatedTexts.forEach(t=>txt(t[0],t[1],t[2],NAVY,t[3]+'px '+FONT,'center',{rotation:Math.PI/2}));
compass.forEach(t=>txt(t[0],t[1],t[2],NAVY,'16px '+FONT,'center'));

const chart=echarts.init(document.getElementById('c'),null,{renderer:'canvas',width:910,height:660});
chart.setOption({animation:false,backgroundColor:'#fff',grid:grids,xAxis:xAxes,yAxis:yAxes,series,graphic:{elements:gfx},tooltip:{show:false},legend:{show:false}});
</script></body></html>
